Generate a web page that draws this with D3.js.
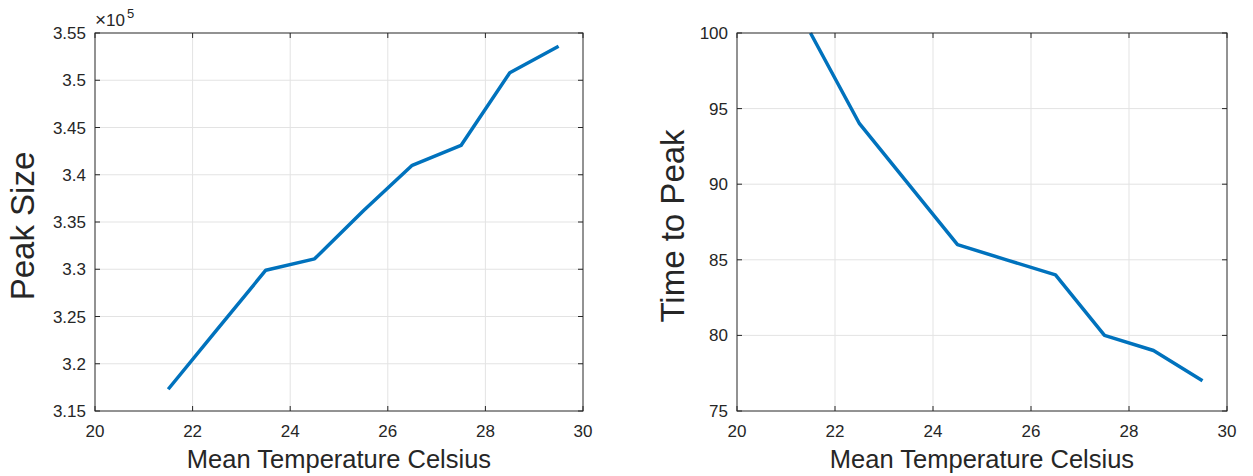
<!DOCTYPE html>
<html><head><meta charset="utf-8">
<script src="https://cdn.jsdelivr.net/npm/d3@7"></script>
<style>body{margin:0;background:#fff;} text{font-family:"Liberation Sans",Arial,Helvetica,sans-serif;fill:#262626;}</style>
</head><body>
<svg id="c" width="1253" height="476"></svg>
<script>
const temps = [21.5, 22.5, 23.5, 24.5, 25.5, 26.5, 27.5, 28.5, 29.5];
const peakSize = [3.173, 3.236, 3.299, 3.311, 3.362, 3.410, 3.431, 3.508, 3.536]; // x10^5
const timeToPeak = [100, 94, 90, 86, 85, 84, 80, 79, 77];
const xTicks = [20, 22, 24, 26, 28, 30];
const yTicksLeft = [3.15, 3.2, 3.25, 3.3, 3.35, 3.4, 3.45, 3.5, 3.55];
const yTickLabelsLeft = ["3.15","3.2","3.25","3.3","3.35","3.4","3.45","3.5","3.55"];
const yTicksRight = [75, 80, 85, 90, 95, 100];
const xLabel = "Mean Temperature Celsius";

const svg = d3.select("#c");

function panel(opt){
  const {x0,x1,y0,y1} = opt;
  const x = d3.scaleLinear().domain([20,30]).range([x0,x1]);
  const y = d3.scaleLinear().domain(opt.ydom).range([y1,y0]);
  const g = svg.append("g");
  // grid
  g.selectAll(".gx").data(xTicks.slice(1,-1)).join("line")
    .attr("x1",d=>x(d)).attr("x2",d=>x(d)).attr("y1",y0).attr("y2",y1)
    .attr("stroke","#e3e3e3").attr("stroke-width",1);
  g.selectAll(".gy").data(opt.yticks.slice(1,-1)).join("line")
    .attr("y1",d=>y(d)).attr("y2",d=>y(d)).attr("x1",x0).attr("x2",x1)
    .attr("stroke","#e3e3e3").attr("stroke-width",1);
  // line
  const line = d3.line().x((d,i)=>x(temps[i])).y(d=>y(d));
  g.append("path").datum(opt.values).attr("d",line)
    .attr("fill","none").attr("stroke","#0072BD").attr("stroke-width",3.5).attr("stroke-linejoin","round");
  // box
  g.append("rect").attr("x",x0).attr("y",y0).attr("width",x1-x0).attr("height",y1-y0)
    .attr("fill","none").attr("stroke","#262626").attr("stroke-width",1);
  // ticks (inward, all four sides)
  const tl = 5;
  xTicks.forEach(t=>{
    g.append("line").attr("x1",x(t)).attr("x2",x(t)).attr("y1",y1).attr("y2",y1-tl).attr("stroke","#262626");
    g.append("line").attr("x1",x(t)).attr("x2",x(t)).attr("y1",y0).attr("y2",y0+tl).attr("stroke","#262626");
  });
  opt.yticks.forEach(t=>{
    g.append("line").attr("y1",y(t)).attr("y2",y(t)).attr("x1",x0).attr("x2",x0+tl).attr("stroke","#262626");
    g.append("line").attr("y1",y(t)).attr("y2",y(t)).attr("x1",x1).attr("x2",x1-tl).attr("stroke","#262626");
  });
  // tick labels
  g.selectAll(".xl").data(xTicks).join("text")
    .attr("x",d=>x(d)).attr("y",y1+26).attr("text-anchor","middle").attr("font-size",17).text(d=>d);
  g.selectAll(".yl").data(opt.yticks).join("text")
    .attr("x",x0-9).attr("y",d=>y(d)+6).attr("text-anchor","end").attr("font-size",17)
    .text((d,i)=>opt.ylabels[i]);
  // axis labels
  g.append("text").attr("x",(x0+x1)/2).attr("y",468).attr("text-anchor","middle").attr("font-size",25.5).text(xLabel);
  g.append("text").attr("transform",`translate(${opt.ylx},${226}) rotate(-90)`)
    .attr("text-anchor","middle").attr("font-size",33).text(opt.ylabel);
  return {x,y,g};
}

const L = panel({x0:95,x1:583,y0:33,y1:411,ydom:[3.15,3.55],values:peakSize,yticks:yTicksLeft,
  ylabels:yTickLabelsLeft,ylabel:"Peak Size",ylx:34});
// exponent label
const ex = L.g.append("text").attr("x",95).attr("y",26).attr("font-size",17);
ex.append("tspan").attr("font-size",19).text("\u00d7");
ex.append("tspan").text("10");
ex.append("tspan").attr("dx",2).attr("dy",-8).attr("font-size",13).text("5");

panel({x0:737,x1:1227,y0:33,y1:411,ydom:[75,100],values:timeToPeak,yticks:yTicksRight,
  ylabels:yTicksRight.map(String),ylabel:"Time to Peak",ylx:684});
</script>
</body></html>
